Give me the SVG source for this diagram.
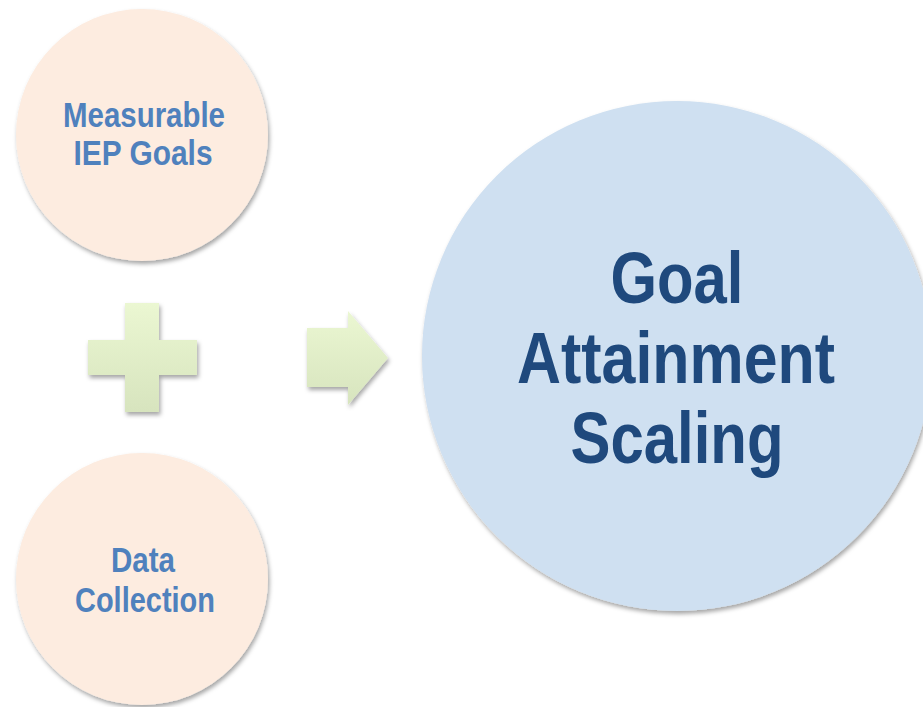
<svg xmlns="http://www.w3.org/2000/svg" width="923" height="707" viewBox="0 0 923 707">
  <defs>
    <filter id="shadow" x="-10%" y="-10%" width="125%" height="125%">
      <feDropShadow dx="1.5" dy="3" stdDeviation="2" flood-color="#000" flood-opacity="0.35"/>
    </filter>
    <linearGradient id="green" x1="0" y1="0" x2="0" y2="1">
      <stop offset="0" stop-color="#EBF7D2"/>
      <stop offset="1" stop-color="#D7E4BE"/>
    </linearGradient>
    <style>
      .small { fill: #FDECE0; filter: url(#shadow); }
      .big { fill: #CFE0F1; filter: url(#shadow); }
      .sym { fill: url(#green); filter: url(#shadow); }
      .lbl { font-family: "Liberation Sans", Arial, sans-serif; font-weight: bold; text-anchor: middle; }
      .lbl-s { font-size: 35px; fill: #4F81BD; }
      .lbl-b { font-size: 73px; fill: #1F497D; }
    </style>
  </defs>
  <rect width="923" height="707" fill="#FFFFFF"/>

  <g id="measurable-goals">
    <circle class="small" cx="142" cy="135" r="126"/>
    <text class="lbl lbl-s" x="144" y="127" textLength="162" lengthAdjust="spacingAndGlyphs">Measurable</text>
    <text class="lbl lbl-s" x="143" y="165" textLength="139" lengthAdjust="spacingAndGlyphs">IEP Goals</text>
  </g>

  <g id="data-collection">
    <circle class="small" cx="142" cy="579" r="126"/>
    <text class="lbl lbl-s" x="143" y="572" textLength="64" lengthAdjust="spacingAndGlyphs">Data</text>
    <text class="lbl lbl-s" x="145" y="612" textLength="140" lengthAdjust="spacingAndGlyphs">Collection</text>
  </g>

  <g id="plus">
    <path class="sym" d="M125,303 H159 V340 H197 V375 H159 V412 H125 V375 H88 V340 H125 Z"/>
  </g>

  <g id="connectors">
    <path class="sym" d="M307,328 H348 V311 L388,358 L348,405 V387 H307 Z"/>
  </g>

  <g id="goal-attainment-scaling">
    <circle class="big" cx="677" cy="356" r="255"/>
    <text class="lbl lbl-b" x="677" y="303" textLength="133" lengthAdjust="spacingAndGlyphs">Goal</text>
    <text class="lbl lbl-b" x="676" y="383" textLength="318" lengthAdjust="spacingAndGlyphs">Attainment</text>
    <text class="lbl lbl-b" x="677" y="463" textLength="213" lengthAdjust="spacingAndGlyphs">Scaling</text>
  </g>
</svg>
